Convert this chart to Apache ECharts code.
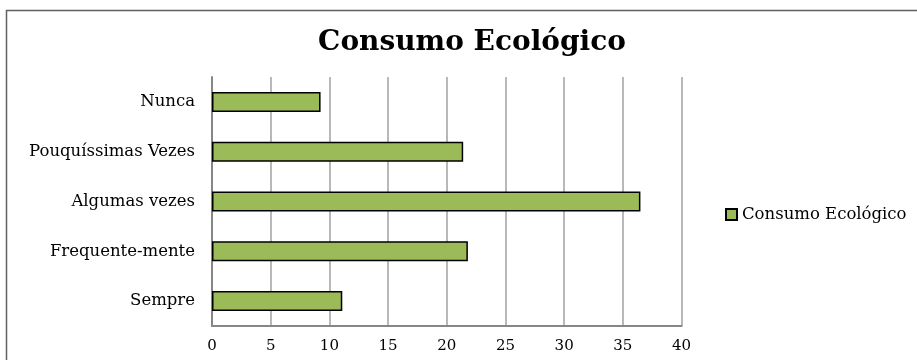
<!DOCTYPE html>
<html><head><meta charset="utf-8">
<script src="https://cdn.jsdelivr.net/npm/echarts@6/dist/echarts.min.js"></script>
<style>html,body{margin:0;padding:0;background:#fff}#c{width:917px;height:360px}</style>
</head><body><div id="c"></div>
<script>
const categories = ["Sempre", "Frequente-mente", "Algumas vezes", "Pouquíssimas Vezes", "Nunca"];
const values = [11.1, 21.8, 36.5, 21.4, 9.25];
const seriesName = "Consumo Ecológico";
const titleText = "Consumo Ecológico";
const xMin = 0, xMax = 40, xStep = 5;

const chart = echarts.init(document.getElementById('c'), null, {renderer: 'canvas'});
const serif = '"DejaVu Serif", "Liberation Serif", serif';
chart.setOption({
  animation: false,
  backgroundColor: '#fff',
  title: {
    text: titleText, left: 467, top: 24, textAlign: 'center',
    textStyle: {fontFamily: serif, fontWeight: 'bold', fontSize: 28, color: '#000'}
  },
  legend: {
    left: 720, top: 201, itemWidth: 11, itemHeight: 11, itemGap: 4,
    icon: 'rect',
    textStyle: {fontFamily: serif, fontSize: 16.5, color: '#000'},
    data: [seriesName]
  },
  grid: {left: 212, right: 917 - 681.5, top: 77, bottom: 360 - 326, containLabel: false},
  xAxis: {
    type: 'value', min: xMin, max: xMax, interval: xStep,
    axisLine: {show: true, lineStyle: {color: '#868686', width: 2}},
    axisTick: {show: false},
    splitLine: {show: true, lineStyle: {color: '#a0a0a0', width: 1.5}},
    axisLabel: {fontFamily: serif, fontSize: 15, color: '#000', margin: 13}
  },
  yAxis: {
    type: 'category', data: categories,
    axisLine: {show: true, lineStyle: {color: '#868686', width: 2}},
    axisTick: {show: false},
    axisLabel: {fontFamily: serif, fontSize: 16.5, color: '#000', margin: 17}
  },
  series: [{
    name: seriesName, type: 'bar', data: values, barWidth: 20,
    itemStyle: {color: '#9BBB59', borderColor: '#000', borderWidth: 1.5}
  }],
  graphic: [{
    type: 'rect', silent: true, z: 100,
    shape: {x: 6.5, y: 10.5, width: 950, height: 400},
    style: {fill: 'none', stroke: '#606060', lineWidth: 1.5}
  }]
});
</script></body></html>
